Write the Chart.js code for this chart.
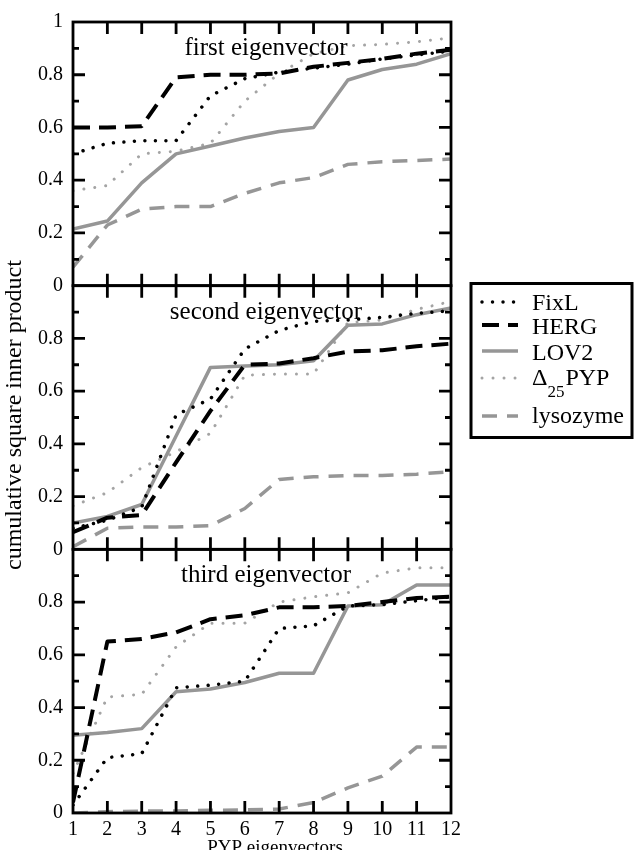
<!DOCTYPE html>
<html>
<head>
<meta charset="utf-8">
<script src="https://cdn.jsdelivr.net/npm/chart.js@4.4.1/dist/chart.umd.min.js"></script>
<style>
  html, body { margin: 0; padding: 0; background: #fff; }
  #wrap { width: 634px; height: 850px; }
</style>
</head>
<body>
<div id="wrap"><canvas id="chart" width="634" height="850"></canvas></div>
<script>
// --- DATA ---
const eigenIndex = [1, 2, 3, 4, 5, 6, 7, 8, 9, 10, 11, 12];
const xTickValues = [1, 2, 3, 4, 5, 6, 7, 8, 9, 10, 11, 12];
const yTickValues = [0, 0.2, 0.4, 0.6, 0.8, 1];
const yMinorValues = [0.1, 0.3, 0.5, 0.7, 0.9];

const seriesNames = ['FixL', 'HERG', 'LOV2', 'Δ25PYP', 'lysozyme'];
const panelTitles = ['first eigenvector', 'second eigenvector', 'third eigenvector'];
const xTitle = 'PYP eigenvectors';
const yTitle = 'cumulative square inner product';

// first eigenvector
const fixlFirst = [0.50, 0.54, 0.55, 0.55, 0.72, 0.785, 0.81, 0.825, 0.84, 0.86, 0.875, 0.89];
const hergFirst = [0.60, 0.60, 0.605, 0.79, 0.80, 0.80, 0.805, 0.83, 0.845, 0.86, 0.88, 0.895];
const lov2First = [0.215, 0.245, 0.39, 0.50, 0.53, 0.56, 0.585, 0.60, 0.78, 0.82, 0.84, 0.88];
const d25First = [0.36, 0.38, 0.50, 0.51, 0.54, 0.70, 0.805, 0.88, 0.91, 0.915, 0.925, 0.94];
const lysoFirst = [0.07, 0.23, 0.29, 0.30, 0.30, 0.35, 0.39, 0.41, 0.46, 0.47, 0.475, 0.48];

// second eigenvector
const fixlSecond = [0.08, 0.11, 0.16, 0.51, 0.57, 0.76, 0.83, 0.865, 0.87, 0.88, 0.895, 0.905];
const hergSecond = [0.065, 0.12, 0.13, 0.33, 0.525, 0.70, 0.705, 0.725, 0.75, 0.755, 0.77, 0.78];
const lov2Second = [0.10, 0.125, 0.17, 0.43, 0.69, 0.695, 0.70, 0.715, 0.85, 0.855, 0.89, 0.915];
const d25Second = [0.165, 0.215, 0.31, 0.37, 0.44, 0.66, 0.665, 0.665, 0.86, 0.87, 0.91, 0.94];
const lysoSecond = [0.01, 0.08, 0.085, 0.085, 0.09, 0.155, 0.265, 0.275, 0.28, 0.28, 0.285, 0.295];

// third eigenvector
const fixlThird = [0.03, 0.21, 0.225, 0.475, 0.485, 0.50, 0.70, 0.71, 0.785, 0.79, 0.805, 0.82];
const hergThird = [0.04, 0.65, 0.66, 0.685, 0.735, 0.75, 0.78, 0.78, 0.785, 0.80, 0.815, 0.82];
const lov2Third = [0.295, 0.305, 0.32, 0.46, 0.47, 0.495, 0.53, 0.53, 0.785, 0.79, 0.865, 0.865];
const d25Third = [0.15, 0.44, 0.45, 0.63, 0.72, 0.72, 0.80, 0.82, 0.835, 0.91, 0.93, 0.93];
const lysoThird = [0.0, 0.005, 0.007, 0.008, 0.01, 0.012, 0.015, 0.04, 0.095, 0.14, 0.25, 0.25];

const panelSeries = [
    [fixlFirst, hergFirst, lov2First, d25First, lysoFirst],
    [fixlSecond, hergSecond, lov2Second, d25Second, lysoSecond],
    [fixlThird, hergThird, lov2Third, d25Third, lysoThird]
];

// --- STYLES ---
const serif = "'Liberation Serif', 'Times New Roman', serif";
const lineStyles = [
    { color: '#000000', width: 3.5, dash: [0.01, 10.5], cap: 'round' },  // FixL
    { color: '#000000', width: 4, dash: [17, 9], cap: 'butt' },          // HERG
    { color: '#969696', width: 3.5, dash: [], cap: 'butt' },             // LOV2
    { color: '#a4a4a4', width: 3, dash: [0.01, 11], cap: 'round' },      // D25PYP
    { color: '#969696', width: 3.5, dash: [15, 10], cap: 'butt' }        // lysozyme
];
const panelIds = ['y1', 'y2', 'y3'];

function fmtTick(v) {
    if (v === 0) return '0';
    if (v === 1) return '1';
    return v.toFixed(1);
}

const datasets = [];
panelSeries.forEach((series, p) => {
    series.forEach((values, s) => {
        const st = lineStyles[s];
        datasets.push({
            label: seriesNames[s],
            data: eigenIndex.map((x, i) => ({ x: x, y: values[i] })),
            yAxisID: panelIds[p],
            borderColor: st.color,
            borderWidth: st.width,
            borderDash: st.dash,
            borderCapStyle: st.cap,
            borderJoinStyle: 'round',
            pointRadius: 0,
            fill: false,
            tension: 0
        });
    });
});

function panelScale(p) {
    return {
        type: 'linear',
        position: 'left',
        stack: 'panels',
        stackWeight: 1,
        weight: 3 - p,
        min: 0,
        max: 1,
        grid: { display: false, drawTicks: false },
        border: { display: false },
        afterBuildTicks: s => { s.ticks = yTickValues.map(v => ({ value: v })); },
        afterFit: s => { s.width = 73; },
        ticks: {
            padding: 10,
            color: '#000',
            font: { family: serif, size: 20 },
            callback: v => (p > 0 && v === 1) ? '' : fmtTick(v)
        }
    };
}

// frames, inward ticks, panel titles, legend and axis titles
const decorPlugin = {
    id: 'decor',
    afterDraw(chart) {
        const ctx = chart.ctx;
        const area = chart.chartArea;
        const xs = chart.scales.x;
        ctx.save();
        ctx.strokeStyle = '#000';
        ctx.fillStyle = '#000';
        ctx.lineCap = 'butt';
        ctx.setLineDash([]);

        panelIds.forEach((id, p) => {
            const ys = chart.scales[id];
            const top = ys.getPixelForValue(1);
            const bottom = ys.getPixelForValue(0);
            ctx.lineWidth = 2.8;
            ctx.strokeRect(area.left, top, area.right - area.left, bottom - top);

            ctx.beginPath();
            xTickValues.forEach(v => {
                if (v === xTickValues[0] || v === xTickValues[xTickValues.length - 1]) return;
                const px = xs.getPixelForValue(v);
                ctx.moveTo(px, bottom); ctx.lineTo(px, bottom - 12);
                ctx.moveTo(px, top); ctx.lineTo(px, top + 12);
            });
            yTickValues.forEach(v => {
                if (v === 0 || v === 1) return;
                const py = ys.getPixelForValue(v);
                ctx.moveTo(area.left, py); ctx.lineTo(area.left + 12, py);
                ctx.moveTo(area.right, py); ctx.lineTo(area.right - 12, py);
            });
            yMinorValues.forEach(v => {
                const py = ys.getPixelForValue(v);
                ctx.moveTo(area.left, py); ctx.lineTo(area.left + 6, py);
                ctx.moveTo(area.right, py); ctx.lineTo(area.right - 6, py);
            });
            ctx.stroke();

            ctx.font = '25px ' + serif;
            ctx.textAlign = 'center';
            ctx.textBaseline = 'alphabetic';
            ctx.fillText(panelTitles[p], (area.left + area.right) / 2 + 4, top + 33);
        });

        // x axis title
        ctx.font = '19px ' + serif;
        ctx.textAlign = 'center';
        ctx.fillText(xTitle, 275, 853);

        // y axis title
        ctx.save();
        ctx.translate(21, 415);
        ctx.rotate(-Math.PI / 2);
        ctx.font = '24px ' + serif;
        ctx.textAlign = 'center';
        ctx.fillText(yTitle, 0, 0);
        ctx.restore();

        // legend box
        ctx.lineWidth = 3;
        ctx.strokeRect(471, 283.5, 161, 154);
        const rowLine = [302, 325, 351, 378, 416];
        const rowText = [310, 334, 360, 385, 423];
        seriesNames.forEach((name, s) => {
            const st = lineStyles[s];
            ctx.save();
            ctx.strokeStyle = st.color;
            ctx.lineWidth = st.width;
            ctx.setLineDash(st.dash);
            ctx.lineCap = st.cap;
            ctx.beginPath();
            ctx.moveTo(482, rowLine[s]);
            ctx.lineTo(518, rowLine[s]);
            ctx.stroke();
            ctx.restore();

            ctx.textAlign = 'left';
            ctx.font = '24px ' + serif;
            if (name === 'Δ25PYP') {
                let x = 532;
                ctx.fillText('Δ', x, rowText[s]);
                x += ctx.measureText('Δ').width;
                ctx.font = '17px ' + serif;
                ctx.fillText('25', x, rowText[s] + 12);
                x += ctx.measureText('25').width + 1;
                ctx.font = '24px ' + serif;
                ctx.fillText('PYP', x, rowText[s]);
            } else {
                ctx.fillText(name, 532, rowText[s]);
            }
        });
        ctx.restore();
    }
};

new Chart(document.getElementById('chart').getContext('2d'), {
    type: 'line',
    data: { datasets: datasets },
    options: {
        responsive: false,
        animation: false,
        devicePixelRatio: 1,
        layout: { padding: { left: 0, top: 17, right: 183, bottom: 0 } },
        plugins: { legend: { display: false }, tooltip: { enabled: false } },
        scales: {
            x: {
                type: 'linear',
                position: 'bottom',
                min: 1,
                max: 12,
                grid: { display: false, drawTicks: false },
                border: { display: false },
                afterBuildTicks: s => { s.ticks = xTickValues.map(v => ({ value: v })); },
                afterFit: s => { s.height = 37; },
                ticks: {
                    padding: 5,
                    color: '#000',
                    maxRotation: 0,
                    autoSkip: false,
                    font: { family: serif, size: 20 },
                    callback: v => String(v)
                }
            },
            y1: panelScale(0),
            y2: panelScale(1),
            y3: panelScale(2)
        }
    },
    plugins: [decorPlugin]
});
</script>
</body>
</html>
